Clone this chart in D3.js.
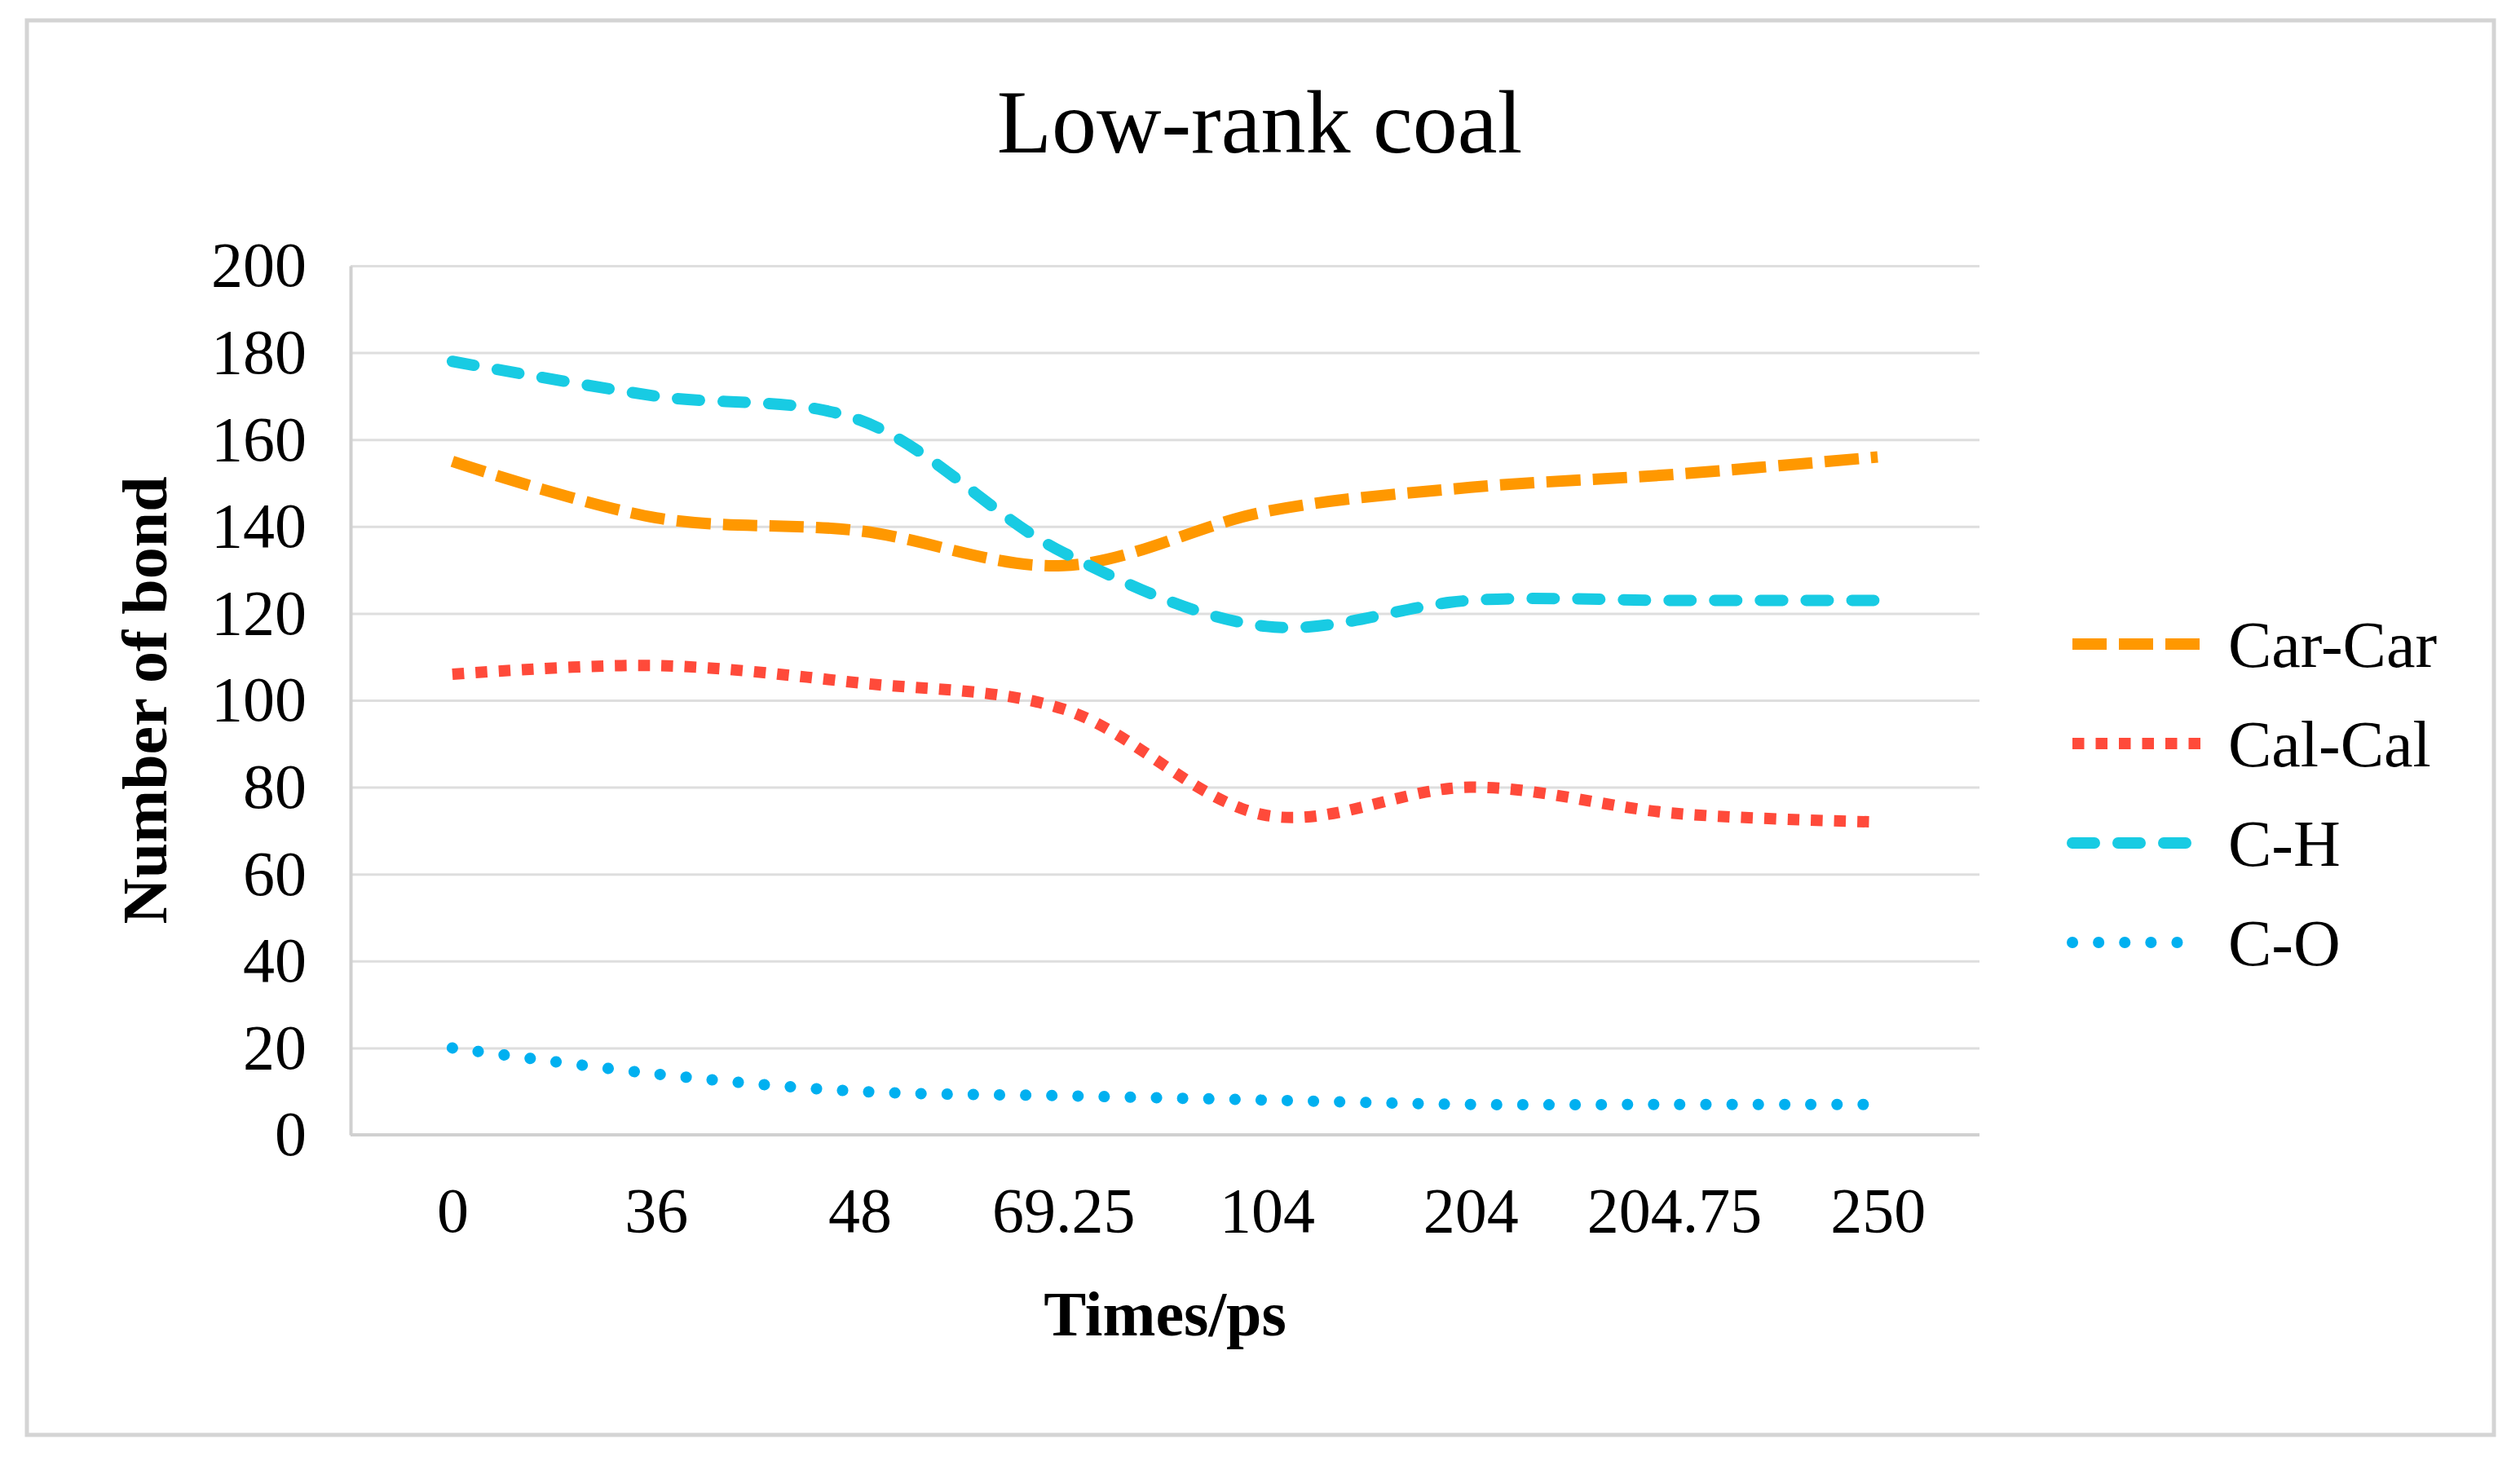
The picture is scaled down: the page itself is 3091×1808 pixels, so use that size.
<!DOCTYPE html>
<html>
<head>
<meta charset="utf-8">
<script src="https://cdn.jsdelivr.net/npm/d3@7"></script>
<style>
  body { margin: 0; background: #fff; }
  text { font-family: "Liberation Serif", "Times New Roman", serif; fill: #000; }
</style>
</head>
<body>
<div id="app"></div>
<script>
// data
const times = ['0', '36', '48', '69.25', '104', '204', '204.75', '250'];
const carCar = [155, 142, 139, 131, 143.5, 149, 152, 156];
const calCal = [106, 108, 104, 98, 73.5, 80, 74, 72];
const cH = [178, 170, 164.5, 134, 117, 123, 123, 123];
const cO = [20, 14, 10, 9, 8, 7, 7, 7];
const yTicks = [0, 20, 40, 60, 80, 100, 120, 140, 160, 180, 200];

const W = 3091, H = 1808;
const plot = { left: 430, right: 2428, top: 326, bottom: 1392 };

const series = [
    { name: 'Car-Car', values: carCar, color: '#ff9800', dash: '42,15', cap: 'butt' },
    { name: 'Cal-Cal', values: calCal, color: '#ff4a3a', dash: '14.5,14', cap: 'butt' },
    { name: 'C-H', values: cH, color: '#18cbe3', dash: '27,29', cap: 'round' },
    { name: 'C-O', values: cO, color: '#00b0f0', dash: '0.1,32', cap: 'round' }
];

const svg = d3.select('#app')
    .append('svg')
    .attr('width', W)
    .attr('height', H)

// frame
svg.append('rect')
    .attr('x', 33).attr('y', 25)
    .attr('width', 3026).attr('height', 1735)
    .attr('fill', '#fff')
    .attr('stroke', '#d4d4d4')
    .attr('stroke-width', 5)

const xScale = d3.scalePoint()
    .domain(times)
    .range([plot.left, plot.right])
    .padding(0.5)
const yScale = d3.scaleLinear()
    .domain([0, 200])
    .range([plot.bottom, plot.top])

// gridlines
const grid = svg.append('g')
    .attr('transform', `translate(${plot.left},0)`)
    .call(d3.axisLeft(yScale).tickValues(yTicks).tickSize(-(plot.right - plot.left)).tickFormat(''))
grid.select('.domain').remove()
grid.selectAll('line').attr('stroke', '#dedede').attr('stroke-width', 3)

// y axis
const yAxis = svg.append('g')
    .attr('transform', `translate(${plot.left},0)`)
    .call(d3.axisLeft(yScale).tickValues(yTicks).tickSize(0).tickPadding(54))
yAxis.select('.domain').attr('stroke', '#d0d0d0').attr('stroke-width', 4)
yAxis.selectAll('text').attr('font-size', 78).attr('font-family', '"Liberation Serif", serif').attr('fill', '#000')

// x axis
const xAxis = svg.append('g')
    .attr('transform', `translate(0,${plot.bottom})`)
    .call(d3.axisBottom(xScale).tickSize(0).tickPadding(64))
xAxis.select('.domain').attr('d', `M${plot.left},0H${plot.right}`).attr('stroke', '#d0d0d0').attr('stroke-width', 4)
xAxis.selectAll('text').attr('font-size', 78).attr('font-family', '"Liberation Serif", serif').attr('fill', '#000')

// lines
const line = d3.line()
    .x((d, i) => xScale(times[i]))
    .y(d => yScale(d))
    .curve(d3.curveCatmullRom.alpha(0.5))

svg.selectAll('.series')
    .data(series)
    .join('path')
    .attr('class', 'series')
    .attr('d', d => line(d.values))
    .attr('fill', 'none')
    .attr('stroke', d => d.color)
    .attr('stroke-width', 14)
    .attr('stroke-dasharray', d => d.dash)
    .attr('stroke-linecap', d => d.cap)

// titles
svg.append('text')
    .attr('x', 1545).attr('y', 187)
    .attr('text-anchor', 'middle')
    .attr('font-size', 110)
    .text('Low-rank coal')

svg.append('text')
    .attr('x', (plot.left + plot.right) / 2).attr('y', 1638)
    .attr('text-anchor', 'middle')
    .attr('font-size', 78)
    .attr('font-weight', 'bold')
    .text('Times/ps')

svg.append('text')
    .attr('transform', `translate(177,${(plot.top + plot.bottom) / 2}) rotate(-90)`)
    .attr('dy', '0.35em')
    .attr('text-anchor', 'middle')
    .attr('font-size', 78)
    .attr('font-weight', 'bold')
    .text('Number of bond')

// legend
const legend = svg.selectAll('.legend')
    .data(series)
    .join('g')
    .attr('class', 'legend')
    .attr('transform', (d, i) => `translate(2542,${790 + i * 122})`)

legend.append('path')
    .attr('d', d => d.cap === 'round' ? 'M0,0H150' : 'M0,0H159')
    .attr('stroke', d => d.color)
    .attr('stroke-width', 14)
    .attr('stroke-dasharray', d => d.dash)
    .attr('stroke-linecap', d => d.cap)

legend.append('text')
    .attr('x', 191)
    .attr('dy', '0.35em')
    .attr('font-size', 80)
    .text(d => d.name)
</script>
</body>
</html>
